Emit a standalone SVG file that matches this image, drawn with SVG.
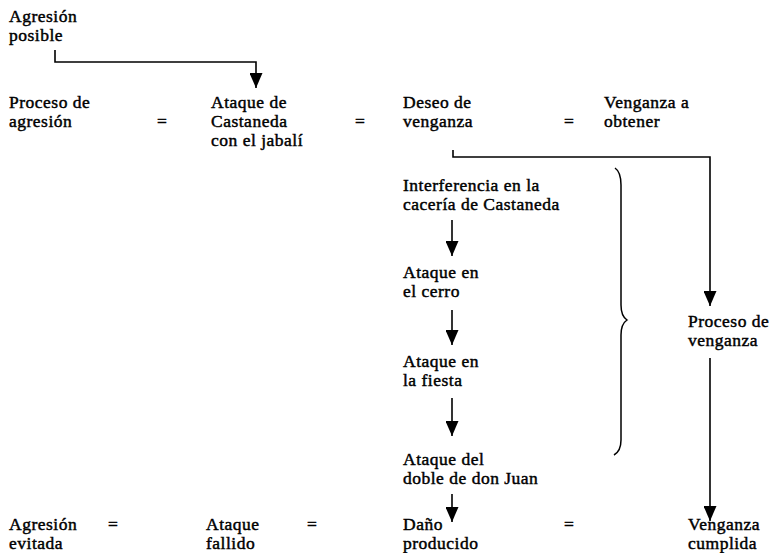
<svg xmlns="http://www.w3.org/2000/svg" width="769" height="553" viewBox="0 0 769 553">
<defs>
<marker id="ah" markerWidth="15" markerHeight="13" refX="15" refY="6.5" orient="auto" markerUnits="userSpaceOnUse" viewBox="0 0 15 13">
<path d="M0,0 L15,6.5 L0,13 Z" fill="#000"/>
</marker>
</defs>
<style>
text{font-family:"Liberation Serif","Times New Roman",serif;font-size:17.5px;letter-spacing:0.5px;fill:#000;stroke:#000;stroke-width:0.45px}
.c{fill:none;stroke:#000;stroke-width:1.6}
.b{fill:none;stroke:#000;stroke-width:1.5}
</style>
<rect width="769" height="553" fill="#fff"/>
<g id="n-agresion-posible"><text x="9" y="22">Agresión<tspan x="9" dy="19">posible</tspan></text></g>
<g id="n-proceso-agresion"><text x="9" y="108">Proceso de<tspan x="9" dy="19">agresión</tspan></text></g>
<g id="eq1"><text x="157" y="127">=</text></g>
<g id="n-ataque-castaneda"><text x="211" y="108">Ataque de<tspan x="211" dy="19">Castaneda</tspan><tspan x="211" dy="19">con el jabalí</tspan></text></g>
<g id="eq2"><text x="355" y="127">=</text></g>
<g id="n-deseo"><text x="403" y="108">Deseo de<tspan x="403" dy="19">venganza</tspan></text></g>
<g id="eq3"><text x="564" y="127">=</text></g>
<g id="n-venganza-obtener"><text x="604" y="108">Venganza a<tspan x="604" dy="19">obtener</tspan></text></g>
<g id="n-interferencia"><text x="403" y="191">Interferencia en la<tspan x="403" dy="19">cacería de Castaneda</tspan></text></g>
<g id="n-ataque-cerro"><text x="403" y="278">Ataque en<tspan x="403" dy="19">el cerro</tspan></text></g>
<g id="n-ataque-fiesta"><text x="403" y="367">Ataque en<tspan x="403" dy="19">la fiesta</tspan></text></g>
<g id="n-ataque-doble"><text x="403" y="465">Ataque del<tspan x="403" dy="19">doble de don Juan</tspan></text></g>
<g id="n-proceso-venganza"><text x="688" y="327">Proceso de<tspan x="688" dy="19">venganza</tspan></text></g>
<g id="n-agresion-evitada"><text x="9" y="530">Agresión<tspan x="9" dy="19">evitada</tspan></text></g>
<g id="eq4"><text x="108" y="530">=</text></g>
<g id="n-ataque-fallido"><text x="206" y="530">Ataque<tspan x="206" dy="19">fallido</tspan></text></g>
<g id="eq5"><text x="307" y="530">=</text></g>
<g id="n-dano"><text x="403" y="530">Daño<tspan x="403" dy="19">producido</tspan></text></g>
<g id="eq6"><text x="564" y="530">=</text></g>
<g id="n-venganza-cumplida"><text x="688" y="530">Venganza<tspan x="688" dy="19">cumplida</tspan></text></g>
<g id="connectors">
<path class="c" d="M55,50 V62 H256 V88" marker-end="url(#ah)"/>
<path class="c" d="M453,150 V157 H710 V306" marker-end="url(#ah)"/>
<path class="c" d="M452,220 V256" marker-end="url(#ah)"/>
<path class="c" d="M452,310 V345" marker-end="url(#ah)"/>
<path class="c" d="M452,398 V436" marker-end="url(#ah)"/>
<path class="c" d="M452,494 V522" marker-end="url(#ah)"/>
<path class="c" d="M710,358 V521" marker-end="url(#ah)"/>
<path class="b" d="M615,168 Q621,172 621,185 V305 Q621,316 627,320 Q621,324 621,335 V440 Q621,451 614,455"/>
</g>
</svg>
